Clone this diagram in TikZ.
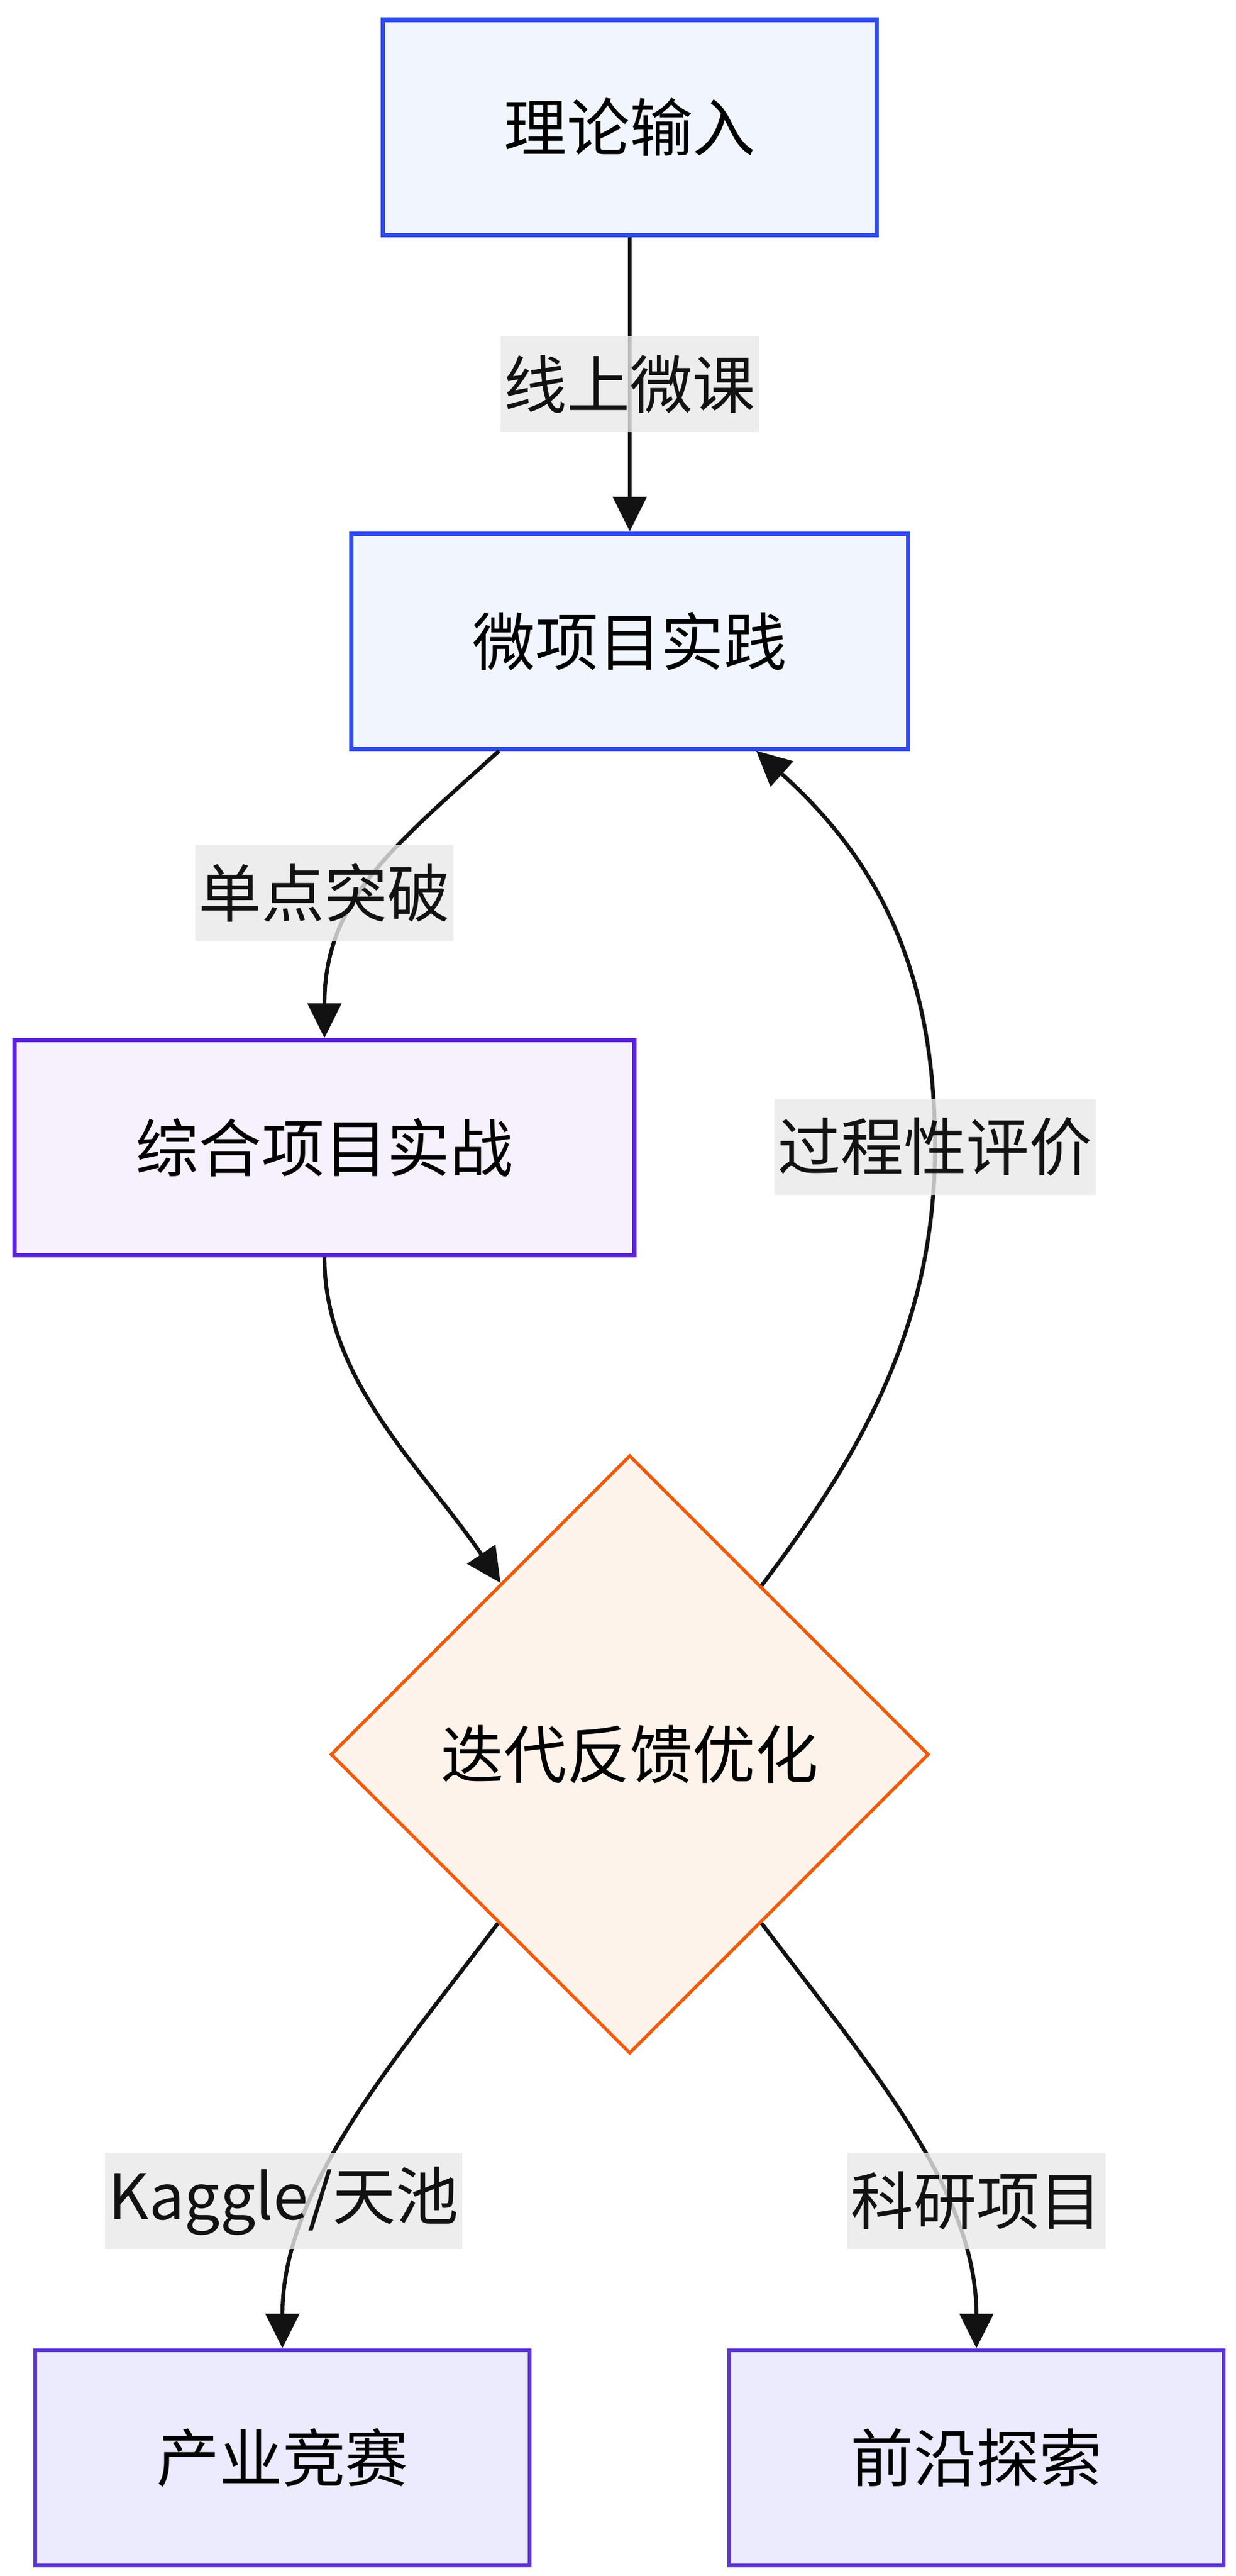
\documentclass[tikz,border=0pt]{standalone}
\usepackage{fontspec}
\setmainfont{Noto Sans CJK SC}
\usepackage{xcolor}
\usetikzlibrary{positioning}
\usetikzlibrary{shapes.geometric}
\usetikzlibrary{arrows.meta}
\usetikzlibrary{calc}

\definecolor{inBlue}{HTML}{2F4CF0}
\definecolor{inBlueFill}{HTML}{F1F5FE}
\definecolor{mixPurple}{HTML}{5A22D8}
\definecolor{mixPurpleFill}{HTML}{F7F1FD}
\definecolor{loopOrange}{HTML}{F15A0A}
\definecolor{loopOrangeFill}{HTML}{FDF3EA}
\definecolor{outViolet}{HTML}{5C35D8}
\definecolor{outVioletFill}{HTML}{ECEAFD}
\definecolor{lblGray}{HTML}{E8E8E8}

\begin{document}
\begin{tikzpicture}[
  font=\fontsize{29pt}{35pt}\selectfont,
  box/.style={draw=inBlue, fill=inBlueFill, line width=2pt, align=center, minimum height=3.48cm, inner xsep=1.96cm},
  mixbox/.style={box, draw=mixPurple, fill=mixPurpleFill},
  outbox/.style={box, draw=outViolet, fill=outVioletFill, line width=1.7pt},
  gate/.style={diamond, aspect=1, draw=loopOrange, fill=loopOrangeFill, line width=1.5pt, minimum width=9.68cm, minimum height=9.68cm, inner sep=0pt},
  lbl/.style={fill=lblGray, fill opacity=0.8, text opacity=1, inner xsep=0.05cm, inner ysep=0pt, minimum height=1.55cm},
  arrow/.style={-{Triangle[length=0.56cm, width=0.54cm]}, line width=1.8pt, black!93}
]

\useasboundingbox (0,0) rectangle (20,-41.67);

% --- Input and practice ------------------------------------------------------
\node[box] (theory) at (10.19,-2.06) {理论输入};
\node[box, below=4.76cm of theory] (micro) {微项目实践};
\node[mixbox] (combo) at (5.25,-18.565) {综合项目实战};

% --- Feedback loop -----------------------------------------------------------
\node[gate] (iter) at (10.19,-28.38) {迭代反馈优化};

% --- Outlets -----------------------------------------------------------------
\node[outbox] (contest) at (4.57,-39.755) {产业竞赛};
\node[outbox] (frontier) at (15.80,-39.755) {前沿探索};

% --- Free ends on box borders / curve waypoints ------------------------------
\coordinate (microOut) at ($(micro.south west)+(2.43,0)$);
\coordinate (microIn) at ($(micro.south west)+(6.59,0)$);
\coordinate (evalMid) at (15.13,-18.55);

% --- Arrows ------------------------------------------------------------------
\draw[arrow] (theory.south) -- node[lbl]{线上微课} (micro.north);

\draw[arrow] (microOut) .. controls +(222:2.4) and +(90:2.2) .. (combo.north)
  node[lbl] at (5.25,-14.44) {单点突破};

\draw[arrow] (combo.south) .. controls +(-90:2.0) and +(124:2.2) .. (iter.127);

\draw[arrow] (iter.52) .. controls +(53:2.5) and +(-90:3.0) .. (evalMid)
  node[lbl]{过程性评价}
  .. controls +(90:3.0) and +(-42:2.5) .. (microIn);

\draw[arrow] (iter.232) .. controls +(233:2.8) and +(90:2.6) .. (contest.north)
  node[lbl] at (4.59,-35.60) {Kaggle/天池};

\draw[arrow] (iter.-52) .. controls +(-53:2.8) and +(90:2.6) .. (frontier.north)
  node[lbl] at (15.80,-35.60) {科研项目};

\end{tikzpicture}
\end{document}
